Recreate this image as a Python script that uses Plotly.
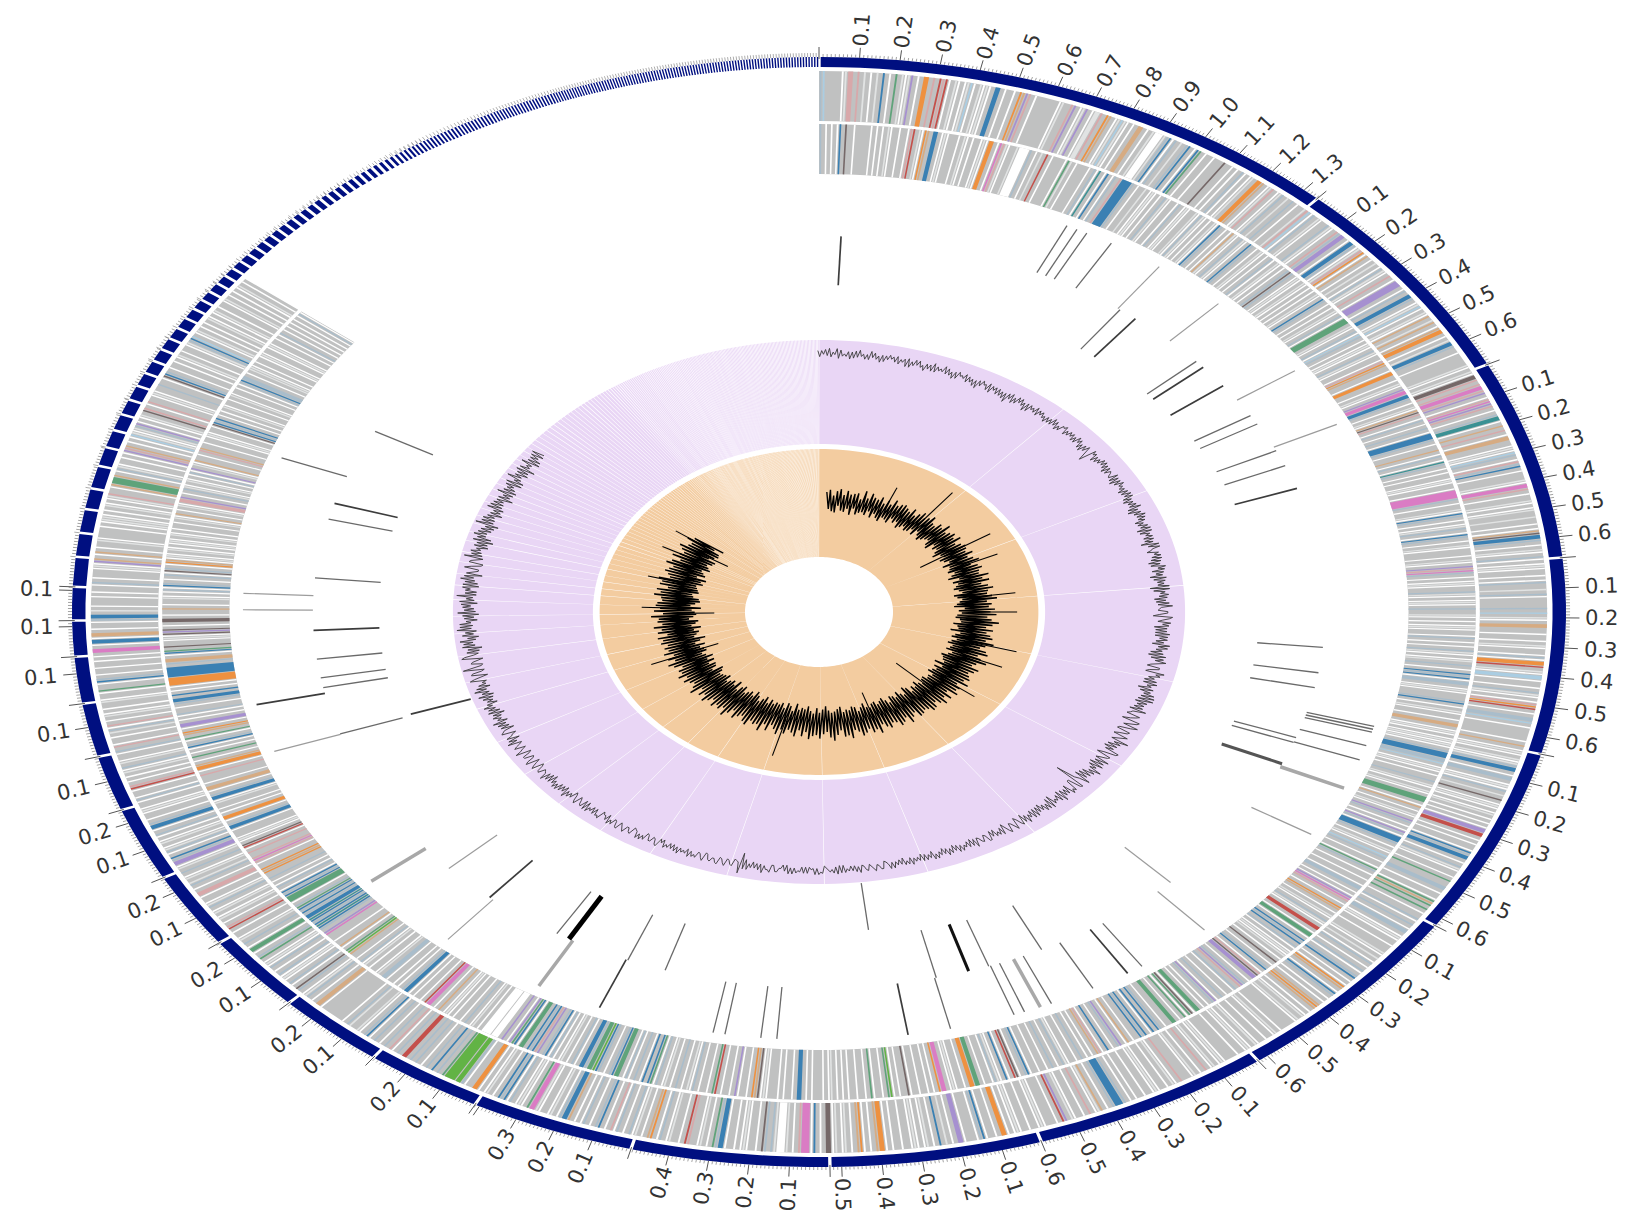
import math
import plotly.graph_objects as go

# ---------- contig lengths (Mb), clockwise from 12 o'clock ----------
contig_lengths = [1.343, 0.695, 0.67, 0.657, 0.628, 0.628, 0.6, 0.529, 0.495, 0.412,
                  0.295, 0.276, 0.263, 0.256, 0.247, 0.186, 0.18, 0.157, 0.12, 0.112,
                  0.1, 0.08, 0.08, 0.07, 0.077, 0.064, 0.06, 0.056, 0.052, 0.05,
                  0.047, 0.045, 0.043, 0.041, 0.04, 0.038, 0.037, 0.035, 0.034, 0.033,
                  0.032, 0.031, 0.03, 0.03, 0.029, 0.028, 0.027, 0.026, 0.026, 0.025,
                  0.024, 0.024, 0.023, 0.023, 0.022, 0.022, 0.021, 0.021, 0.02, 0.02,
                  0.019, 0.019, 0.018, 0.017, 0.016, 0.015, 0.014, 0.013, 0.012, 0.012,
                  0.011, 0.011, 0.011, 0.01, 0.01, 0.01, 0.01, 0.01, 0.01, 0.01,
                  0.01, 0.01, 0.01, 0.009, 0.009, 0.009, 0.009, 0.009, 0.009, 0.009,
                  0.009, 0.009, 0.009, 0.009, 0.008, 0.008, 0.008, 0.008, 0.008, 0.008,
                  0.008, 0.008, 0.008, 0.008, 0.008, 0.008, 0.008, 0.008, 0.008, 0.008,
                  0.008, 0.008, 0.008, 0.008, 0.007, 0.007, 0.007, 0.007, 0.007, 0.007,
                  0.007, 0.007, 0.007, 0.007, 0.007, 0.007, 0.007, 0.007, 0.007, 0.007,
                  0.007, 0.007, 0.007, 0.007, 0.007, 0.007, 0.007, 0.007, 0.007, 0.007,
                  0.007, 0.007, 0.007, 0.007, 0.007, 0.007, 0.007, 0.007, 0.007, 0.007,
                  0.007, 0.007, 0.007, 0.007, 0.007, 0.007, 0.007, 0.007, 0.007, 0.007,
                  0.007, 0.007, 0.007, 0.007, 0.007, 0.007, 0.007, 0.007, 0.007, 0.007,
                  0.007, 0.007, 0.007, 0.007, 0.007, 0.007, 0.007, 0.007, 0.007, 0.007,
                  0.007, 0.007, 0.007, 0.007, 0.007, 0.007, 0.007, 0.007, 0.007, 0.007,
                  0.007, 0.007, 0.007, 0.007, 0.007, 0.007, 0.007, 0.007, 0.007, 0.007,
                  0.007, 0.007, 0.007, 0.007, 0.007, 0.007, 0.007, 0.007, 0.007, 0.007]
labels_per_contig = [13, 6, 6, 6, 6, 6, 6, 5, 4, 3, 2, 2, 2, 2, 2, 1, 1, 1, 1, 1]

# ---------- gene-colour barcodes, one string per 10 degrees ----------
outer_track_bins = [
 "scggggg.lkkgkglg.glgbg.gngl.lvg.googkgrk", "r.gl.g.lc.gl.l.gbbg.gg.goyvkg.ggggggg.lg",
 "gkvg.lvg.llkgoyg.lcl.g.gyyg.gl...lsb.sgl", "gsbg.bng.gg.gggdgg.g.gs.g.lgooyg.lkg.lsg",
 "lgsg.gglkc.sgl.ggsl.gksvvg.bbs.lko.yg.gl", "g.sl.gkg.vvvg.sgbbsg.lc.gl.yglyg.yoog.gl",
 "bbsgg.gggggl.gl.ddkgkmmkvg.kmvkg.gstt.gy", "gkg.yygg.l.csg.ksbg.gggl.mmkg.ggl.g.lggl",
 "gg.g.ydbbsg.gl.gs.g.l.gg.g.sgglgs.ggggsg", "cgl.gyygg.gg.gl.gg.s.oorgl.cc.gg.gsl.g.k",
 "org.gsscg.ggggg.gyg.l.gl.lsbbg.ssg.l.sgl", "gdg.l.g.lg.g.g.vvrrg.g.gg.bsbbg.gsl.gg.gn",
 "ggssg.gg.nyngng.ggs.gsg.ssg.l.gg.gggl.gl", "g.sg.gs.gsbg.g.oyg.bsg.g.gyoyg.g.lgl.ggg",
 "gg.gl.gg.gg.lg.l.gg.gggg.l.gl.gkg.gl.ggg", "kg.lg.gg.l.gg.gg.g.gsbbbsg.gyl.gkg.gg.lg",
 "vrg.ggg.l.gg.gg.l.g.oog.gg.bs.ggg.vvg.gl", "gbg.gl.g.l.gg.gg.g.ooyg.g.oyg.gl.gl.ddg.",
 "gb.mmmkg.gl...lsgsdg.gg.l.g.gg.bbsng.gl.g", "gkrg.ggl.gs.goyg.gl.sg.gs.kg.gbsg.gs.g.g",
 "ybbs.gl.gg.lmmng.l.gs.bsbg.gl.g.oogg.shh", "hhhhngsgbgsg.gsgsgrrgsg.kgsg.gsg.bsg.lgg",
 "lsg.gggggggg.yyg.gsl.gsdg.sg.l.sg.gs.l.g", "nsg.nn.gsgl.gg.grkg.gl.gl.gsl.gg.kkg.gsl",
 "gl.gsgl.vvsbg.sl.gl.g.sg.bbsg.gg.l.gg.s.", "gg.rkg.g.gl.sgl.gg.sgk.gg.gls.kg.gl.g.g",
 "gl.gg.ngg.bsg.gg.gg.g.gmmg.bb.yyg.gg.sbbg", "lg.ggg.g.gg.sg.ggg.l.vyg.yg.ggl.gggg.g.l",
 "l.g.gl.g.lkgg.ynnnyg.sl.gg.g.vkyg.g.cl.l", "sv.g.lgdkg.kgg.l.ggsgg.dbsg.gg.g.lg.gg.l",
 "sbcg.lg.g.gl.g.lg.gg.lg.g.g.lg.g",
]
inner_track_bins = [
 "sg.g.g.bgdgg.ggggg.g.g.gl.gg.gg.krgl.oyg", "bbg.l.ggg.gl.g.gg.l.oog.mkl.ggl....sg.gl",
 "grg.gggg.nlg.gggg.gs.tg.bg.sgkbbbbsg.ggl", "g.l.g.gsl.gg.sg.l.ggl.sl.g.gl.bsg.g.yl.g",
 "sl.gbsg.gl.g.gs.gl.g.gsdsg.l.gl.g.g.gl.g", "bsg.g.gl.gs.nnngl.gs.csg.g.l.gsl.gg.koyg",
 "g.oogg.gl.gvmmbbsg.gl.ydkg.sg.gsg.bbbsg.", "ggyg.sg.tsg.g.gg.l.gg.mmmmsg.ggl.bsg.g.l",
 "sg.bsg.gl.ggg.gl.gvkmsg.g.l.ggsl.g.l.gsg", "gl.g.g.l.gg.sg.g.gsl.g.lgsg.gbsb.ssg.l.g",
 "ggsbg.gl.gg.gyyg.l.g.l.l.gsbbbsscg.l.g.g", "gsgl.gl.gnnng.yg.gl.gvsg.g.vs.bbbsg.gl.g",
 "csg.gg.nsg.gg.gg.ssg.g.vmkg.goyg.gl.gsl.", "grrg.nn.gbsbgs.g.l.lg.gdg.gsbg.kdvvg.gsv",
 "kgs.gg.gsg.vsg.g.gnn.dn.ng.gnngg.gsbgb.g", "bsbgg.gy.gvsg.gbg.kyg.g.gsg.gg.lsg.gsg.g",
 "g.gg.bsg.drg.bg.ls.gg.gnnoog.gg.l.gmmog.", "g.gg.gg.dgg.g.hng.gg.ng.gg.gg.g.g.gl.g.g",
 "gg.g.gbbg.gg.g.ggg.l.dyog.gg.vg.gg.grng.", "gg.gs.lg.gsg.gl.gs.nbgb.gsg.s.gnnbsg.gsb",
 "hnnsbbg.sg.gl.g.s.bsgvkbsbgnn.bnv.gvg...", "....g.gl.gsg.gg.g.l.gyg.gmmrg.gg.g.bbsg.",
 "g.gg.ssgl.gg.gl.sg.ggyhng.ygg.gggmvgsbt", "bsbtbbsbsbnsg.nnnbsb.gs.g.gsggoyogg.kmkg",
 "gkg.rdg.l.ggg.bbsg.oog.g.ggl.bbsg.yyg.gg", "gkg.ooyg.gng.g.bsg.ngyog.vvg.g.sgg.gsbbg",
 "bg.g.oooobbbbbgsyyg.bngdgg.l.dvdg.gddg.g", "gyg.ggl.g.s.bsg.gs.dsg.oy.l.gl.g.l.gl.g.",
 "gg.gl.yg.gl.kkvg.gsl.gl.g.s.vgl.ygg.gkyg", "g.gg.l.gg.dbsbg.g.gl.gg.gl.gg.g.sbssg.gl",
 "l.g.gg.l.gg.l.gg.g.sg.g.g.g.g.s.",
]
bin_colors = {"g": "#c0c1c1", "l": "#e1e3e3", "s": "#a9bdcb", "b": "#3a80b3", "c": "#aacde2",
              "o": "#ee9140", "y": "#d6ab82", "r": "#c4504b", "k": "#d8a8aa", "m": "#da7cc4",
              "v": "#a690d0", "n": "#5fa37a", "h": "#62b345", "d": "#756868", "t": "#3a9194",
              ".": "#ffffff"}

# ---------- feature tiles: (degree, layer) ----------
tiles_light = [(36.2,"A"),(43.9,"A"),(55.7,"A"),(64,"A"),(121.3,"A"),(136,"B"),(138,"A"),
               (220.1,"A"),(227,"B"),(251,"A"),(270.3,"A"),(272.5,"A")]
tiles_mid = [(25.5,"A"),(26.6,"A"),(27.7,"A"),(30.5,"A"),(36.5,"B"),(48.2,"B"),(58.5,"B"),(60,"B"),
             (64.6,"B"),(67.1,"B"),(95.4,"B"),(99.3,"B"),(101.6,"B"),(105.5,"A"),(105.9,"A"),(106.3,"A"),
             (108.2,"A"),(110.2,"A"),(109.5,"B"),(110.3,"B"),(145.9,"A"),(151.6,"A"),(153.9,"B"),
             (156.2,"A"),(159.1,"A"),(160.2,"A"),(160.4,"B"),(166.6,"B"),(166.8,"A"),(173.4,"C"),
             (184.2,"A"),(185.8,"A"),(189.4,"A"),(190.6,"A"),(197.7,"B"),(202.2,"B"),(211.2,"B"),
             (251.1,"B"),(258.4,"B"),(259.9,"B"),(262.8,"B"),(275.2,"B"),(284.3,"B"),(291.1,"A"),(298.7,"B")]
tiles_dark = [(2.5,"B"),(38.7,"B"),(49.4,"B"),(53,"B"),(70.8,"B"),(147.6,"A"),(171.1,"A"),(202.4,"A"),
              (220.6,"B"),(251.4,"C"),(257.5,"A"),(267.2,"B"),(286.8,"B")]
tiles_wide_grey = [(114.3,"A"),(157.4,"A"),(209.1,"A"),(231,"A")]
tiles_wide_dark = [(113.8,"B")]
tiles_black = [(162.8,"B")]
tiles_heavy = [(209.6,"B")]

# ---------- GC content deviation: two window lists, plotted as max/min per window ----------
gc_dev = [2,-1,3,-3,1,4,-2,0,-4,2,3,-1,-3,1,4,-2,1,-3,2,0,-2,3,-1,2,-4,
          1,3,-2,0,2,-3,4,-1,1,-2,3,-4,2,0,-1,3,-2,1,-5,2,0,-3,3,-1,2,
          -3,1,-6,2,-4,1,3,-2,-5,2,-1,1,-3,2,-2,0,-3,1,3,-4,0,2,-3,1,-1,
          2,-3,-1,2,-5,1,-2,-9,0,2,-3,1,3,-2,-4,2,0,-3,3,-5,2,-1,1,-4,2,
          -2,3,-5,1,-3,4,-6,2,-2,3,-5,0,2,-6,3,-2,-4,2,-7,4,-1,-5,2,-3,3,
          -6,1,4,-5,2,-7,3,-3,1,-8,4,-2,3,-6,1,-4,5,-3,2,-7,3,-1,4,-6,2,
          -5,4,-2,3,-6,5,-3,1,-7,4,-2,5,-6,2,-4,6,-3,1,-5,4,-7,3,-2,5,-4,
          6,-3,2,-6,5,-4,3,-7,4,-1,6,-5,2,-6,4,-3,7,-5,2,-4,6,-7,3,-2,5,
          -6,4,-3,6,-5,2,-7,5,-18,4,-6,3,-5,2,-4,5,-3,1,-6,4,-2,3,-5,1,-4,
          3,-2,4,-5,1,-3,4,-2,2,-5,3,-1,2,-4,3,-2,1,-3,4,-4,2,-1,3,-3,1,
          -2,3,-4,1,-1,3,-2,2,-4,1,-2,3,-1,2,-3,1,-2,3,-4,2,-1,1,-3,2,-2,
          3,-3,1,-1,2,-4,3,-1,1,-3,2,-2,3,-1,-3,2,0,-2,3,-4,1,-1,2,-3,1,
          -2,4,-3,1,-2,3,-10,7,-3,1,-2,3,-3,2,-1,1,-3,3,-2,0,2,-3,1,-2,3,
          -3,1,-1,2,-4,3,-2,1,-3,2,-1,3,-4,2,-2,1,-3,3,-2,2,-4,1,-2,3,-3,
          2,-1,3,-4,2,-2,3,-5,1,-2,4,-3,2,-1,3,-5,2,-3,4,-2,1,-5,3,-2,4,
          -4,2,-3,5,-4,1,-2,5,-5,3,-2,4,-6,2,-3,5,-2,3,-6,4,-2,5,-5,1,-4,
          5,-3,6,-5,2,-4,6,-6,3,-3,8,-5,2,-6,7,-4,3,-7,5,-2,6,-6,4,-5,7,
          -3,5,-6,2,-7,6,-4,3,-6,5,-3,7,-5,2,-6,4,-3,6,-7,3,-4,5,-6,2,-5,
          7,-3,4,-6,3,-8,5,-2,6,-4,3,-7,8,-3,5,-6,2,-5,6,-3,4,-7,3,-5,6,
          -4,2,-6,5,-3,7,-5,3,-7,4,-2,6,-5,3,-4,5]
gc_dev_b = [-3,2,-2,4,-1,-4,3,-2,2,-3,-2,4,1,-3,-1,3,-4,2,-1,3,2,-3,1,-4,3,
            -2,-1,3,-4,-2,2,-3,2,-1,4,-2,1,-3,3,1,-3,2,-4,1,-2,3,1,-4,2,-3,
            2,-4,1,-2,3,-3,-1,3,1,-4,2,-2,3,-1,2,-4,1,-3,-2,2,-3,1,3,-2,2,
            -3,1,3,-4,0,-3,2,-5,3,-4,1,-2,-1,3,2,-3,1,-2,-4,2,-3,3,-2,1,-3,
            3,-4,1,-3,2,-5,1,-3,4,-2,2,-4,-3,3,-5,1,2,-4,1,-3,4,-2,-1,3,-4,
            2,-5,-1,3,-3,1,-5,2,-3,4,-6,1,-3,2,-5,3,-2,-4,2,-3,5,-4,-1,3,-5,
            2,-5,3,-4,1,-2,4,-6,2,-5,3,-1,-4,2,-6,1,4,-5,3,-2,1,-5,2,-3,6,
            -5,3,-4,2,-3,-6,1,-2,5,-4,2,-6,3,-3,1,-5,-2,3,-6,1,5,-3,2,-5,-4,
            3,-5,1,-2,3,-6,1,-2,-5,3,-6,1,4,-3,2,-5,3,-1,2,-5,3,-3,1,-4,3,
            -4,1,-3,2,3,-5,1,-3,4,-1,-3,2,-4,1,3,-3,2,-2,-3,2,-3,1,-2,3,-4,
            2,-3,1,-2,3,-4,1,-3,2,-2,1,-3,2,-4,1,-2,3,-1,-3,2,-2,3,-1,1,-3,
            -2,2,-3,1,-4,2,-3,2,-1,-4,1,3,-2,-3,2,-3,1,2,-2,3,-4,-1,2,-3,3,
            1,-3,2,-4,1,-5,3,-2,-4,2,-3,1,-2,3,-1,2,-4,1,-3,2,-2,3,-1,1,-2,
            2,-3,1,-4,-1,2,-3,1,-4,-1,3,-2,-3,1,-2,3,-1,2,-3,-1,3,-2,-4,1,2,
            -3,1,-4,3,1,-4,1,-3,-2,2,-4,1,-3,3,-2,1,-4,2,-1,-3,2,-3,1,-5,2,
            -3,2,-5,1,-1,3,-4,-2,3,-1,-5,2,1,-4,3,-5,1,-3,2,-4,3,-1,2,-3,3,
            -5,2,-2,4,-3,-1,3,-2,4,-5,2,-4,1,-3,5,-1,-5,2,-3,4,-4,1,-3,2,-2,
            5,-2,1,-4,3,-5,2,-2,4,-4,1,-5,2,-1,4,-5,3,-2,4,-1,-4,1,-5,3,-2,
            -4,3,-2,1,-5,2,-6,3,-2,4,-5,1,-3,5,-2,3,-4,1,-3,5,-2,3,-4,1,-6,
            3,-2,4,-6,1,-2,3,-4,5,-2,1,-6,3,-2,4,-3,2]

# ---------- GC skew deviation, one value per window ----------
skew_dev = [8,-7,10,-9,5,-10,9,-4,11,-8,6,-9,10,-6,7,-11,8,-5,9,-10,4,-8,12,-7,6,
            -9,11,-5,8,-10,7,-6,10,-9,5,-11,9,-7,6,-8,11,-10,7,-5,9,-8,10,-6,8,-11,
            6,-9,10,-7,5,-10,8,-9,11,-6,7,-10,9,-5,12,-8,7,-11,6,-9,10,-7,8,-6,13,
            -10,7,-12,9,-6,11,-9,8,-7,12,-10,6,-13,9,-8,11,-7,10,-11,8,-9,12,-6,7,-12,
            10,-8,13,-9,6,-11,10,-7,12,-10,9,-13,8,-6,14,-11,9,-8,13,-10,7,-12,11,-9,14,
            -7,10,-13,9,-11,12,-8,15,-10,8,-12,11,-14,9,-7,13,-11,10,-9,14,-12,8,-13,11,-10,
            16,-9,12,-14,8,-11,13,-10,9,-15,12,-8,14,-11,10,-13,16,-9,11,-12,8,-14,13,-10,15,
            -11,9,-13,12,-8,17,-10,11,-14,9,-12,15,-11,13,-9,10,-15,12,-8,14,-13,11,-10,16,-12,
            9,-14,13,-9,12,-11,15,-10,8,-13,14,-12,10,-9,15,-11,12,-14,9,-10,13,-12,14,-8,11,
            -13,10,-15,12,-9,13,-11,8,-14,11,-10,15,-12,9,-13,12,-8,14,-11,10,-14,9,-12,13,-10,
            11,-13,8,-12,15,-9,11,-10,13,-14,9,-11,12,-8,14,-12,10,-13,8,-10,15,-11,12,-9,13,
            -14,7,-12,11,-10,16,-9,13,-11,8,-15,10,-12,14,-9,11,-13,12,-8,15,-10,9,-14,13,-11,
            8,-12,14,-10,11,-15,9,-8,13,-12,10,-14,15,-9,11,-13,8,-11,14,-12,9,-10,16,-13,11,
            -9,12,-14,10,-11,15,-8,13,-12,9,-15,11,-10,14,-13,8,-11,12,-9,16,-14,10,-12,13,-8,
            11,-15,14,-10,9,-13,12,-11,15,-9,10,-14,13,-12,8,-11,16,-10,12,-13,9,-15,11,-8,14,
            -12,10,-13,15,-9,11,-14,12,-10,8,-15,13,-11,16,-9,10,-13,14,-12,9,-10,15,-14,11,-8,
            13,-12,10,-16,14,-9,12,-11,15,-13,8,-10,14,-15,11,-9,16,-12,10,-14,13,-8,12,-11,17,
            -13,9,-12,15,-10,11,-16,14,-9,13,-12,10,-15,11,-14,16,-10,12,-9,15,-13,8,-12,14,-11,
            13,-10,16,-14,9,-12,11,-15,14,-8,12,-13,10,-11,16,-9,13,-14,8,-12,15,-10,11,-13,9,
            -14,12,-8,15,-11,10,-13,9,-12,14,-7,10,-13]
skew_spike_deg = [23, 38.2, 57.3, 57.5, 65.5, 82.2, 90, 105.7, 112.9, 127.5, 134.4, 161.6,
                  195.5, 248, 248.5, 269.3, 272, 285.2, 298.3, 302, 306]
skew_spike_val = [24, 41, 34, -28, 29, 31, 31, 36, 31, 28, -38, -26, 38, 29, -25, -28, 26, 26, 27, -25, 27]

# ---------- geometry ----------
CX, CY, K = 819, 612, 1.346
R_BAND = (545, 555)
R_T1, R_T2 = (491, 541), (438, 488)
R_GC, R_SKEW = (168, 272), (55, 163)
GC_R, SKEW_R = 259, 111
GC_SHIFT, SKEW_SHIFT = -3, 7
GC_SCALE, SKEW_SCALE = 1.2, 1.12
LAYERS = {"A": (376, 428), "B": (327, 376), "C": (273, 320)}
TRACK_END = 308.0

total_mb = sum(contig_lengths)
deg_per_mb = 360.0 / total_mb


def xy(deg, r):
    a = math.radians(deg)
    return CX + K * r * math.sin(a), CY - r * math.cos(a)


def sector(d0, d1, r0, r1):
    n = max(1, int((d1 - d0) / 1.5))
    angs = [d0 + (d1 - d0) * i / n for i in range(n + 1)]
    pts = [xy(a, r1) for a in angs] + [xy(a, r0) for a in reversed(angs)]
    pts.append(pts[0])
    return [p[0] for p in pts] + [None], [p[1] for p in pts] + [None]


def radial(items, r_fn, shift=0):
    xs, ys = [], []
    for it in items:
        d, r0, r1 = r_fn(it)
        a, b = xy(d, r0), xy(d, r1)
        xs += [a[0] + shift, b[0] + shift, None]
        ys += [a[1], b[1], None]
    return xs, ys


fig = go.Figure()


def add_fill(color, xs, ys):
    fig.add_trace(go.Scatter(x=xs, y=ys, mode="none", fill="toself", fillcolor=color,
                             hoverinfo="skip", showlegend=False))


def add_lines(xs, ys, color, width):
    fig.add_trace(go.Scatter(x=xs, y=ys, mode="lines", line=dict(color=color, width=width),
                             hoverinfo="skip", showlegend=False))


# contig sectors
starts = []
pos = 0.0
for L in contig_lengths:
    starts.append(pos)
    pos += L

band_x, band_y, gc_x, gc_y, sk_x, sk_y = [], [], [], [], [], []
for s, L in zip(starts, contig_lengths):
    d0 = s * deg_per_mb
    w = L * deg_per_mb
    g_band = min(0.26, 0.5 * w)
    g_ring = min(0.12, 0.45 * w)
    for (gap, r, X, Y) in [(g_band, R_BAND, band_x, band_y), (g_ring, R_GC, gc_x, gc_y), (g_ring, R_SKEW, sk_x, sk_y)]:
        px, py = sector(d0 + gap / 2, d0 + w - gap / 2, r[0], r[1])
        X += px
        Y += py
add_fill("#e9d6f5", gc_x, gc_y)
add_fill("#f3cca0", sk_x, sk_y)
add_fill("#000f80", band_x, band_y)

# barcode tracks: grey base, then narrow stripes on top
for bins, rng in ((outer_track_bins, R_T1), (inner_track_bins, R_T2)):
    px, py = sector(0.0, TRACK_END, rng[0], rng[1])
    add_fill(bin_colors["g"], px, py)
    groups = {}
    for i, block in enumerate(bins):
        d_start = i * 10.0
        d_end = min(d_start + 10.0, TRACK_END)
        step = (d_end - d_start) / len(block)
        j = 0
        while j < len(block):
            k = j
            while k + 1 < len(block) and block[k + 1] == block[j]:
                k += 1
            if block[j] != "g":
                inset = 0.2 * step
                px, py = sector(d_start + j * step + inset, d_start + (k + 1) * step - inset, rng[0], rng[1])
                g = groups.setdefault(block[j], ([], []))
                g[0].extend(px)
                g[1].extend(py)
            j = k + 1
    for key in bin_colors:
        if key in groups:
            add_fill(bin_colors[key], groups[key][0], groups[key][1])

# feature tiles
for tiles, col, wid in ((tiles_light, "#9c9c9c", 1.2), (tiles_mid, "#6a6a6a", 1.3), (tiles_dark, "#3c3c3c", 1.7),
                        (tiles_wide_grey, "#a8a8a8", 3.5), (tiles_wide_dark, "#555555", 3.0),
                        (tiles_black, "#111111", 3.0), (tiles_heavy, "#000000", 5.0)):
    xs, ys = radial(tiles, lambda t: (t[0], LAYERS[t[1]][0], LAYERS[t[1]][1]))
    add_lines(xs, ys, col, wid)

# GC and skew curves
gc_span = TRACK_END - 0.6
gc_all = [v for a, b in zip(gc_dev, gc_dev_b) for v in (max(a, b), min(a, b))]
gc_pts = [xy(gc_span * i / (len(gc_all) - 1) + 0.3, GC_R + GC_SCALE * v) for i, v in enumerate(gc_all)]
add_lines([p[0] + GC_SHIFT for p in gc_pts], [p[1] for p in gc_pts], "#3a3a3a", 0.9)
sk_pts = [xy(gc_span * i / (len(skew_dev) - 1) + 0.3, SKEW_R + SKEW_SCALE * v) for i, v in enumerate(skew_dev)]
add_lines([p[0] + SKEW_SHIFT for p in sk_pts], [p[1] for p in sk_pts], "#000000", 1.4)
xs, ys = radial(list(zip(skew_spike_deg, skew_spike_val)), lambda t: (t[0], SKEW_R, SKEW_R + t[1]), SKEW_SHIFT)
add_lines(xs, ys, "#000000", 1.1)

# scale ticks and labels
minor, major, start_long, start_short = [], [], [], []
annotations = []
for idx, (s, L) in enumerate(zip(starts, contig_lengths)):
    (start_long if L >= 0.1 else start_short).append(s * deg_per_mb)
    n = int(round(L / 0.01))
    for t in range(1, n + 1):
        if t * 0.01 >= L:
            break
        d = (s + t * 0.01) * deg_per_mb
        (major if t % 10 == 0 else minor).append(d)
    if idx < len(labels_per_contig):
        for t in range(1, labels_per_contig[idx] + 1):
            d = (s + t * 0.1) * deg_per_mb
            a = math.radians(d)
            dx, dy = K * math.sin(a), -math.cos(a)
            bx, by = xy(d, R_BAND[1])
            ang = math.degrees(math.atan2(dy, dx))
            if dx < 0:
                ang += 180
            if ang > 180:
                ang -= 360
            annotations.append(dict(x=bx + 36 * math.sin(a), y=by - 28 * math.cos(a), xref="x", yref="y",
                                    text=f"{t * 0.1:.1f}", showarrow=False, textangle=ang,
                                    font=dict(family="DejaVu Sans", size=21, color="#333333")))

xs, ys = radial(minor, lambda d: (d, R_BAND[1], R_BAND[1] + 3))
add_lines(xs, ys, "#8a8a8a", 0.8)
xs, ys = radial(major, lambda d: (d, R_BAND[1], R_BAND[1] + 10))
add_lines(xs, ys, "#555555", 1.0)
xs, ys = radial(start_long, lambda d: (d, R_BAND[1] - 2, R_BAND[1] + 10))
add_lines(xs, ys, "#555555", 1.0)
xs, ys = radial(start_short, lambda d: (d, R_BAND[1], R_BAND[1] + 4))
add_lines(xs, ys, "#8a8a8a", 0.7)

fig.update_layout(width=1638, height=1224, margin=dict(l=0, r=0, t=0, b=0),
                  paper_bgcolor="white", plot_bgcolor="white", showlegend=False,
                  xaxis=dict(range=[0, 1638], visible=False, fixedrange=True),
                  yaxis=dict(range=[1224, 0], visible=False, fixedrange=True),
                  annotations=annotations)
fig.write_html("out.html", post_script="document.body.style.margin='0';",
               config={"displayModeBar": False})
